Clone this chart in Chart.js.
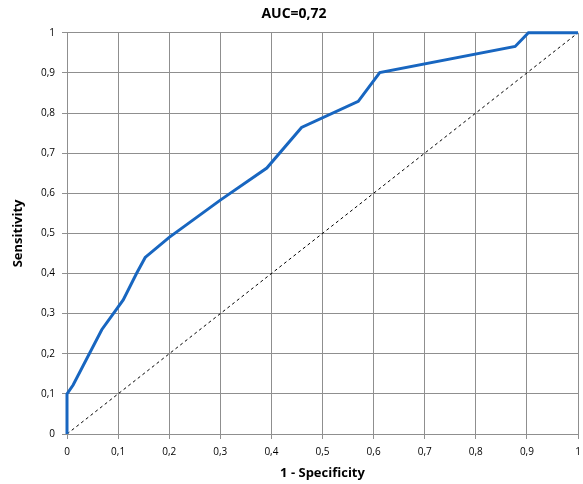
<!DOCTYPE html>
<html>
<head>
<meta charset="utf-8">
<script src="https://cdn.jsdelivr.net/npm/chart.js@4/dist/chart.umd.min.js"></script>
<style>
  html, body { margin: 0; padding: 0; background: #fff; }
  #wrap { width: 583px; height: 484px; }
</style>
</head>
<body>
<div id="wrap"><canvas id="roc" width="583" height="484"></canvas></div>
<script>
// ROC curve, values
const fpr = [0, 0, 0.012, 0.068, 0.11, 0.136, 0.153, 0.2, 0.3, 0.391, 0.459, 0.57, 0.612, 0.877, 0.903, 1];
const tpr = [0, 0.1, 0.122, 0.26, 0.334, 0.40, 0.44, 0.49, 0.583, 0.663, 0.764, 0.829, 0.901, 0.966, 1, 1];
const refX = [0, 1];
const refY = [0, 1];
const chartTitle = "AUC=0,72";

const toPoints = (xs, ys) => xs.map((x, i) => ({ x: x, y: ys[i] }));
const commaTick = v => (Math.round(v * 10) / 10).toString().replace(".", ",");

const gridGray = "#8f8f8f";
const tickFont = { family: "Open Sans", size: 10 };
const titleFont = { family: "Open Sans", size: 13, weight: "bold" };

new Chart("roc", {
    type: "scatter",
    data: {
        datasets: [
            {
                label: "ROC",
                data: toPoints(fpr, tpr),
                showLine: true,
                borderColor: "#1866c0",
                borderWidth: 3,
                pointRadius: 0,
                tension: 0,
                clip: 5,
                order: 1
            },
            {
                label: "Reference",
                data: toPoints(refX, refY),
                showLine: true,
                borderColor: "#000",
                borderWidth: 1,
                borderDash: [3, 3],
                pointRadius: 0,
                order: 2
            }
        ]
    },
    options: {
        responsive: false,
        animation: false,
        layout: { padding: { left: 10, right: 5, top: 0, bottom: 0 } },
        plugins: {
            legend: { display: false },
            tooltip: { enabled: false },
            title: {
                display: true,
                text: chartTitle,
                color: "#000",
                font: { family: "Open Sans", size: 14, weight: "bold" },
                padding: { top: 6, bottom: 10 }
            }
        },
        scales: {
            x: {
                type: "linear",
                min: 0,
                max: 1,
                ticks: { stepSize: 0.1, callback: commaTick, color: "#000", font: tickFont, padding: 7, maxRotation: 0 },
                grid: { color: gridGray, tickLength: 5, tickColor: gridGray },
                border: { color: gridGray },
                title: {
                    display: true,
                    text: "1 - Specificity",
                    color: "#000",
                    font: titleFont,
                    padding: { top: 4, bottom: 3 }
                },
                afterFit: s => { s.height = 50; s.paddingLeft = 0; s.paddingRight = 0; }
            },
            y: {
                type: "linear",
                min: 0,
                max: 1,
                ticks: { stepSize: 0.1, callback: commaTick, color: "#000", font: tickFont, padding: 7 },
                grid: { color: gridGray, tickLength: 5, tickColor: gridGray },
                border: { color: gridGray },
                title: {
                    display: true,
                    text: "Sensitivity",
                    color: "#000",
                    font: titleFont,
                    padding: { top: 0, bottom: 0 }
                },
                afterFit: s => { s.width = 57; s.paddingTop = 0; s.paddingBottom = 0; }
            }
        }
    }
});
</script>
</body>
</html>
